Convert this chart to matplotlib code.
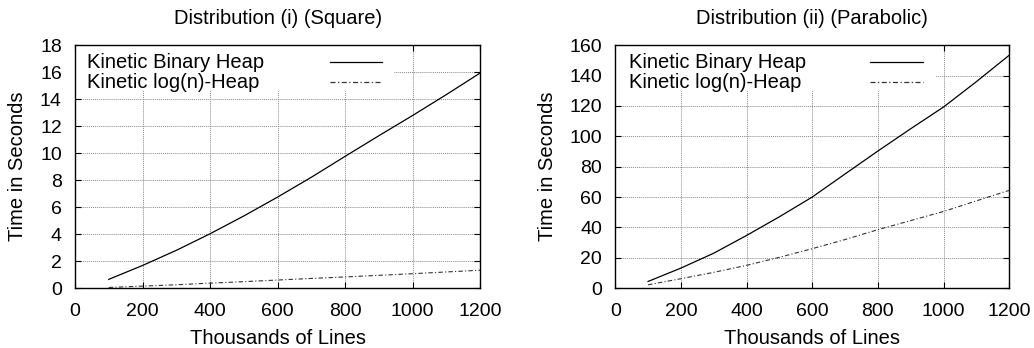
import matplotlib
matplotlib.use("Agg")
import matplotlib.pyplot as plt
from matplotlib.patches import Rectangle
from matplotlib.lines import Line2D

plt.rcParams['font.family'] = ['Liberation Sans', 'DejaVu Sans']

lines_k = [100, 200, 300, 400, 500, 600, 700, 800, 900, 1000, 1100, 1200]

# Distribution (i) (Square)
square_binary = [0.65, 1.68, 2.8, 4.03, 5.35, 6.75, 8.22, 9.77, 11.3, 12.8, 14.35, 15.95]
square_logn = [0.05, 0.15, 0.25, 0.37, 0.48, 0.6, 0.72, 0.83, 0.95, 1.07, 1.2, 1.33]

# Distribution (ii) (Parabolic)
parab_binary = [4.4, 13.2, 23, 34.7, 47, 60, 75.2, 90.3, 105, 119.3, 136, 153.4]
parab_logn = [2.2, 6.2, 10.4, 15, 20.3, 26, 32, 38.5, 44.5, 50.5, 57.5, 64.4]

titles = ["Distribution (i) (Square)", "Distribution (ii) (Parabolic)"]
labels = ["Kinetic Binary Heap", "Kinetic log(n)-Heap"]
ymax = [18, 160]
ystep = [2, 20]

fig = plt.figure(figsize=(10.34, 3.48), dpi=100)
ax1 = fig.add_axes([0.0725, 0.172, 0.392, 0.698])
ax2 = fig.add_axes([0.595, 0.172, 0.381, 0.698])

dashdot = (0, (4, 2, 1, 2))

key_text_x = [0.03, 0.036]
key_line = [(0.63, 0.758), (0.647, 0.782)]
box_w = [0.785, 0.81]

for i, (ax, binary, logn) in enumerate([(ax1, square_binary, square_logn),
                                        (ax2, parab_binary, parab_logn)]):
    ax.plot(lines_k, binary, color='black', lw=0.9, zorder=3)
    ax.plot(lines_k, logn, color='#333333', lw=0.8, linestyle=dashdot, zorder=3)
    ax.set_xlim(0, 1200)
    ax.set_ylim(0, ymax[i])
    ax.set_xticks(range(0, 1201, 200))
    ax.set_yticks(range(0, ymax[i] + 1, ystep[i]))
    ax.tick_params(direction='in', top=True, right=True, length=4, width=0.8,
                   labelsize=14)
    ax.tick_params(axis='x', pad=11)
    ax.tick_params(axis='y', pad=9.5)
    ax.grid(True, linestyle=(0, (1, 1)), color='#888888', lw=0.7, zorder=0)
    ax.set_axisbelow(True)
    for s in ax.spines.values():
        s.set_linewidth(1.0)
    ax.set_title(titles[i], fontsize=14.5, pad=15.5)
    ax.set_xlabel("Thousands of Lines", fontsize=14.5, labelpad=6)
    ax.set_ylabel("Time in Seconds", fontsize=14.5, labelpad=9)

    # key box in the top-left corner, like gnuplot
    ax.add_patch(Rectangle((0.003, 0.815), box_w[i], 0.18, transform=ax.transAxes,
                           facecolor='white', edgecolor='none', zorder=2))
    for j, lab in enumerate(labels):
        yy = 0.93 - j * 0.082
        ax.text(key_text_x[i], yy, lab, transform=ax.transAxes, fontsize=14.5,
                va='center', ha='left', zorder=4)
        ls = '-' if j == 0 else dashdot
        ax.add_line(Line2D(key_line[i], [yy, yy], transform=ax.transAxes,
                           color='black' if j == 0 else '#333333',
                           lw=0.9, linestyle=ls, zorder=4))

fig.savefig("out.png", dpi=100)
